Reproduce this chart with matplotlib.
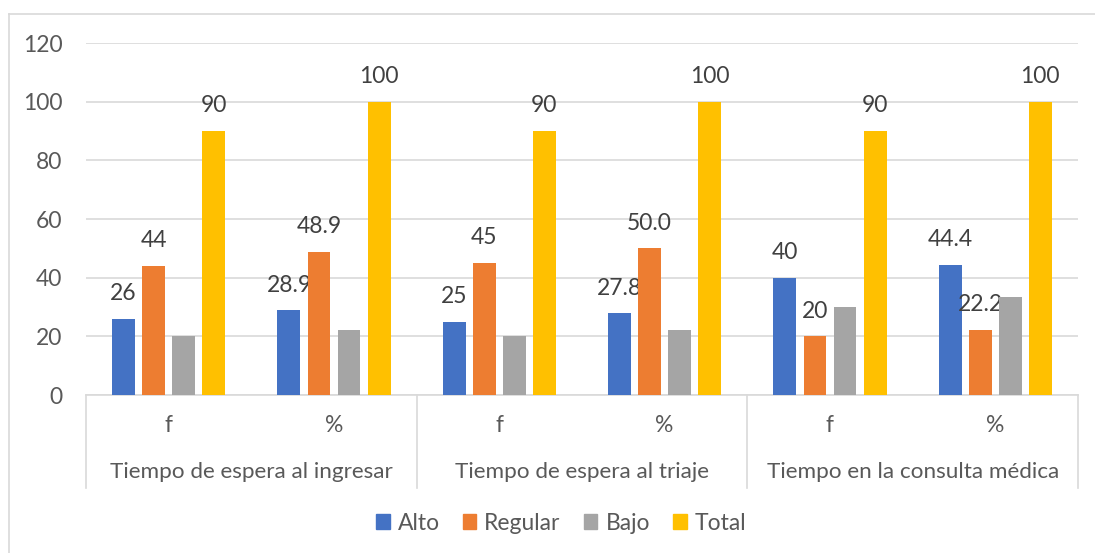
import numpy as np
import matplotlib.pyplot as plt
from matplotlib.lines import Line2D
from matplotlib.patches import Patch

sub_labels = ['f', '%', 'f', '%', 'f', '%']
group_labels = ['Tiempo de espera al ingresar', 'Tiempo de espera al triaje',
                'Tiempo en la consulta médica']
series = ['Alto', 'Regular', 'Bajo', 'Total']
alto = [26, 28.9, 25, 27.8, 40, 44.4]
regular = [44, 48.9, 45, 50.0, 20, 22.2]
bajo = [20, 22.2, 20, 22.2, 30, 33.3]
total = [90, 100, 90, 100, 90, 100]
alto_lbl = ['26', '28.9', '25', '27.8', '40', '44.4']
regular_lbl = ['44', '48.9', '45', '50.0', '20', '22.2']
total_lbl = ['90', '100', '90', '100', '90', '100']

colors = ['#4472C4', '#ED7D31', '#A5A5A5', '#FFC000']
txt = '#595959'
fs = 16.5
plt.rcParams['font.family'] = ['Lato', 'DejaVu Sans']

W, H = 1095, 553
fig = plt.figure(figsize=(W / 100, H / 100), dpi=100)
ax = fig.add_axes([86 / W, 1 - 395 / H, (1078 - 86) / W, (395 - 43) / H])

x = np.arange(len(sub_labels))
step = 0.1815
width = 0.139
data = [alto, regular, bajo, total]
labels = [alto_lbl, regular_lbl, None, total_lbl]
for i, (vals, c, lb) in enumerate(zip(data, colors, labels)):
    pos = x + (i - 1.5) * step
    ax.bar(pos, vals, width, color=c, zorder=3)
    if lb is not None:
        for p, v, t in zip(pos, vals, lb):
            ax.annotate(t, (p, v), xytext=(0, 10.5), textcoords='offset points',
                        ha='center', va='bottom', fontsize=fs, color='#404040')

ax.set_xlim(-0.5, 5.5)
ax.set_ylim(0, 120)
ax.set_yticks(range(0, 121, 20))
ax.tick_params(axis='y', length=0, pad=17, labelsize=fs, labelcolor=txt)
ax.set_xticks([])
ax.grid(axis='y', color='#d9d9d9', linewidth=1.2, zorder=0)
for s in ['left', 'right', 'top']:
    ax.spines[s].set_visible(False)
ax.spines['bottom'].set_color('#d9d9d9')
ax.spines['bottom'].set_linewidth(1.2)

# multi-level category axis
tr = ax.get_xaxis_transform()
ybot = -(488 - 395) / (395 - 43)
for b in [-0.5, 1.5, 3.5, 5.5]:
    ax.add_line(Line2D([b, b], [0, ybot], transform=tr, color='#d9d9d9',
                       linewidth=1.2, clip_on=False))
for xi, s in zip(x, sub_labels):
    ax.text(xi, -(425 - 395) / (395 - 43), s, transform=tr, ha='center', va='center',
            fontsize=fs, color=txt)
for gi, g in enumerate(group_labels):
    ax.text(2 * gi + 0.5, -(472 - 395) / (395 - 43), g, transform=tr, ha='center',
            va='center', fontsize=16.2, color=txt)

handles = [Patch(color=c, label=s) for c, s in zip(colors, series)]
fig.legend(handles=handles, loc='center', bbox_to_anchor=(561 / W, 1 - 523 / H),
           ncol=4, frameon=False, fontsize=fs, handlelength=0.6, handleheight=0.6,
           handletextpad=0.35, columnspacing=1.0, labelcolor=txt)

# chart border (left and top edges visible)
fig.add_artist(Line2D([9 / W, 9 / W], [0, 1 - 14 / H], transform=fig.transFigure,
                      color='#d9d9d9', linewidth=1.2))
fig.add_artist(Line2D([9 / W, 1], [1 - 14 / H, 1 - 14 / H], transform=fig.transFigure,
                      color='#d9d9d9', linewidth=1.2))

fig.savefig('out.png', dpi=100)
